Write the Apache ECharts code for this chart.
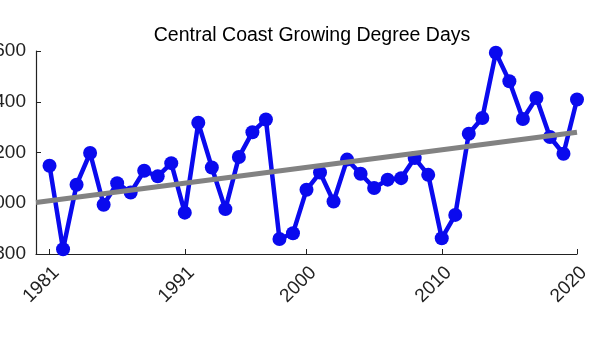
<!DOCTYPE html>
<html>
<head>
<meta charset="utf-8">
<script src="https://cdn.jsdelivr.net/npm/echarts@6/dist/echarts.min.js"></script>
<style>
  html, body { margin: 0; padding: 0; background: #fff; }
  #chart { width: 600px; height: 353px; }
</style>
</head>
<body>
<div id="chart"></div>
<script>
// growing degree days
const years = [
  1981, 1982, 1983, 1984, 1985, 1986, 1987, 1988, 1989, 1990,
  1991, 1992, 1993, 1994, 1995, 1996, 1997, 1998, 1999, 2000,
  2001, 2002, 2003, 2004, 2005, 2006, 2007, 2008, 2009, 2010,
  2011, 2012, 2013, 2014, 2015, 2016, 2017, 2018, 2019, 2020
];
const gdd = [
  2148, 1819, 2073, 2198, 1994, 2079, 2042, 2128, 2106, 2158,
  1963, 2317, 2141, 1977, 2182, 2280, 2330, 1859, 1882, 2053,
  2121, 2007, 2172, 2116, 2060, 2093, 2099, 2178, 2112, 1862,
  1954, 2274, 2336, 2593, 2481, 2332, 2415, 2261, 2195, 2409
];
// linear trend end points
const trendYears = [1980, 2020];
const trendValues = [2003, 2280];
const xTicks = [1981, 1991, 2000, 2010, 2020];

const font = "Liberation Sans";
const chart = echarts.init(document.getElementById("chart"));

chart.setOption({
  animation: false,
  title: {
    text: "Central Coast Growing Degree Days",
    left: 307,
    textAlign: "center",
    top: 21,
    textStyle: { fontFamily: font, fontSize: 19.5, fontWeight: "normal", color: "#000" }
  },
  grid: { left: 36, right: 23, top: 51, bottom: 99, outerBoundsMode: "none", containLabel: false },
  xAxis: {
    type: "value",
    min: 1980,
    max: 2020,
    splitLine: { show: false },
    axisLine: { lineStyle: { color: "#222", width: 1.2 } },
    axisTick: { inside: true, length: 5, customValues: xTicks, lineStyle: { color: "#222" } },
    axisLabel: {
      customValues: xTicks,
      rotate: 45,
      margin: 9,
      verticalAlign: "top",
      fontFamily: font,
      fontSize: 19,
      color: "#222",
      formatter: (v) => String(v)
    }
  },
  yAxis: {
    type: "value",
    min: 1800,
    max: 2600,
    interval: 200,
    splitLine: { show: false },
    axisLine: { show: true, lineStyle: { color: "#222", width: 1.2 } },
    axisTick: { show: true, inside: true, length: 5, lineStyle: { color: "#222" } },
    axisLabel: { margin: 10, fontFamily: font, fontSize: 19, color: "#222", formatter: (v) => String(v) }
  },
  series: [
    {
      type: "line",
      data: years.map((y, i) => [y, gdd[i]]),
      symbol: "circle",
      symbolSize: 14,
      lineStyle: { color: "#0a0aee", width: 4.5 },
      itemStyle: { color: "#0a0aee" },
      z: 2
    },
    {
      type: "line",
      data: trendYears.map((y, i) => [y, trendValues[i]]),
      symbol: "none",
      lineStyle: { color: "#828282", width: 5 },
      z: 3
    }
  ]
});
</script>
</body>
</html>
